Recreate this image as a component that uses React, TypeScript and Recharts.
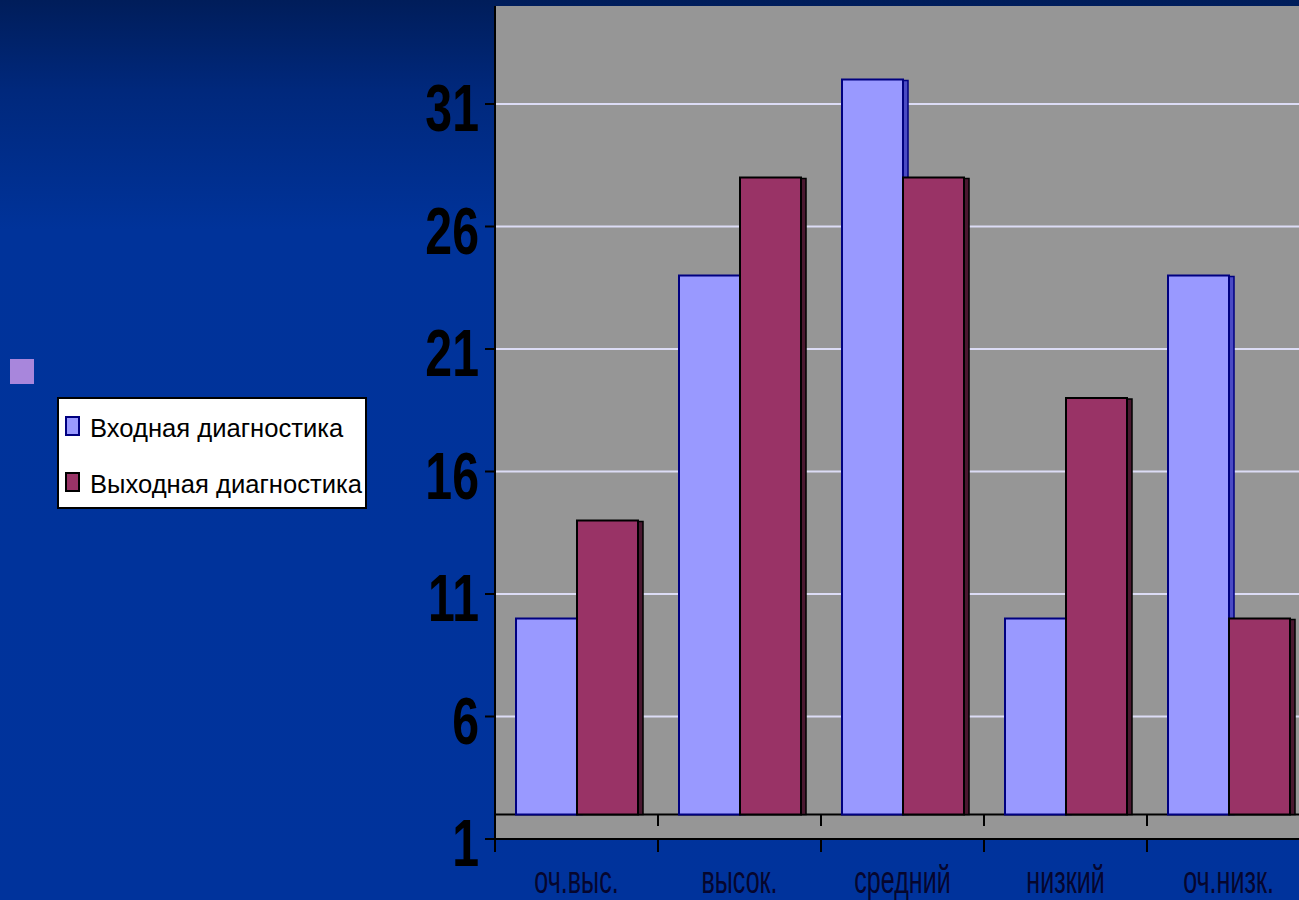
import React from 'react';
import { BarChart, Bar, XAxis, YAxis, CartesianGrid, Legend, ReferenceArea } from 'recharts';

// categories and values
const categories = ['оч.выс.', 'высок.', 'средний', 'низкий', 'оч.низк.'];
const entryValues = [10, 24, 32, 10, 24];
const exitValues = [14, 28, 28, 19, 10];
const yTicks = [1, 6, 11, 16, 21, 26, 31];
const gridValues = [6, 11, 16, 21, 26, 31];
const seriesNames = ['Входная диагностика', 'Выходная диагностика'];

const Y_MIN = 1;
const Y_MAX = 35;
const FLOOR = 2; // top of the pseudo-3D floor

const data = categories.map((name, i) => ({
  name,
  entry: entryValues[i],
  exit: exitValues[i],
}));

const CHART_W = 1320;
const CHART_H = 900;
const MARGIN = { top: 6, right: 10, left: 395, bottom: 11 };
const Y_AXIS_W = 100;
const BAND = (CHART_W - MARGIN.left - MARGIN.right - Y_AXIS_W) / categories.length;

const FONT = '"Liberation Sans", Arial, sans-serif';

// front face plus a thin darker side, like the old Excel 3D columns
const makeShape = (side: string, edge: string) => (props: any) => {
  const { x, y, width, height, fill } = props;
  if (height == null || height <= 0) return null;
  return (
    <g>
      <rect x={x + width} y={y + 1} width={5} height={height - 1} fill={side} stroke={edge} strokeWidth={1.5} />
      <rect x={x} y={y} width={width} height={height} fill={fill} stroke={edge} strokeWidth={2} />
    </g>
  );
};

const YTick = (props: any) => {
  const { x, y, payload } = props;
  return (
    <text
      transform={`translate(${x},${y + 27}) scale(0.72,1)`}
      textAnchor="end"
      fontFamily={FONT}
      fontWeight="bold"
      fontSize={67}
      fill="#000"
    >
      {payload.value}
    </text>
  );
};

const XTick = (props: any) => {
  const { x, y, payload } = props;
  const bx = x - BAND / 2;
  return (
    <g>
      <line x1={bx} x2={bx} y1={y} y2={y + 13} stroke="#000" strokeWidth={2} />
      <line x1={bx} x2={bx} y1={y - 24} y2={y - 13} stroke="#000" strokeWidth={2} />
      <text
        transform={`translate(${x},${y + 54}) scale(0.66,1)`}
        textAnchor="middle"
        fontFamily={FONT}
        fontSize={38}
        fill="#06062e"
      >
        {payload.value}
      </text>
    </g>
  );
};

const LegendBox = (props: any) => {
  const { payload } = props;
  return (
    <div
      style={{
        position: 'fixed',
        left: 57,
        top: 397,
        width: 306,
        height: 108,
        background: '#fff',
        border: '2px solid #000',
      }}
    >
      <svg width={306} height={108}>
        {(payload || []).map((p: any, i: number) => (
          <g key={p.value} transform={`translate(0, ${i * 56})`}>
            <rect x={7} y={18} width={13} height={18} fill={p.color} stroke={i === 0 ? '#000080' : '#000'} strokeWidth={2} />
            <text
              transform={`translate(31, 38) scale(0.985,1)`}
              fontFamily={FONT}
              fontSize={26}
              fill="#000"
            >
              {p.value}
            </text>
          </g>
        ))}
      </svg>
    </div>
  );
};

export default function App() {
  return (
    <div
      style={{
        position: 'fixed',
        left: 0,
        top: 0,
        width: 1299,
        height: 900,
        overflow: 'hidden',
        background: 'linear-gradient(to bottom, #001d5a 0px, #00287c 90px, #00339a 230px, #00339c 100%)',
      }}
    >
      <div style={{ position: 'absolute', left: 10, top: 359, width: 24, height: 25, background: '#a886dc' }} />
      <BarChart width={CHART_W} height={CHART_H} data={data} margin={MARGIN} barSize={61} barGap={0}>
        <CartesianGrid
          vertical={false}
          horizontalValues={gridValues}
          stroke="#dcdcf5"
          strokeWidth={2}
          fill="#969696"
          fillOpacity={1}
        />
        <ReferenceArea y1={Y_MIN} y2={FLOOR} fill="#969696" fillOpacity={1} stroke="#000" strokeWidth={2} />
        <XAxis
          dataKey="name"
          height={50}
          axisLine={{ stroke: '#000', strokeWidth: 2 }}
          tickLine={false}
          tickSize={0}
          tickMargin={0}
          tick={<XTick />}
          interval={0}
        />
        <YAxis
          width={Y_AXIS_W}
          domain={[Y_MIN, Y_MAX]}
          ticks={yTicks}
          allowDataOverflow
          axisLine={{ stroke: '#000', strokeWidth: 2 }}
          tickLine={{ stroke: '#000', strokeWidth: 2 }}
          tickSize={10}
          tickMargin={6}
          tick={<YTick />}
        />
        <Legend layout="horizontal" align="center" verticalAlign="middle" content={<LegendBox />} />
        <Bar
          name={seriesNames[0]}
          dataKey={(d: any) => [FLOOR, d.entry]}
          fill="#9999ff"
          shape={makeShape('#4a4ac4', '#000080')}
          isAnimationActive={false}
        />
        <Bar
          name={seriesNames[1]}
          dataKey={(d: any) => [FLOOR, d.exit]}
          fill="#993366"
          shape={makeShape('#4a1830', '#000')}
          isAnimationActive={false}
        />
      </BarChart>
    </div>
  );
}
